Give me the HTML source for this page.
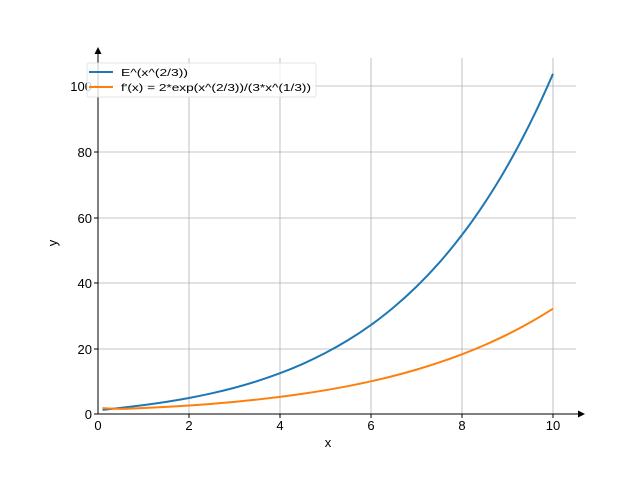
<!DOCTYPE html>
<html><head><style>body{margin:0;background:#fff}svg{display:block}text{font-family:"Liberation Sans","DejaVu Sans",sans-serif}</style></head>
<body>
<svg width="640" height="480" viewBox="0 0 640 480">
<g stroke="#b0b0b0" stroke-width="0.8">
<line x1="189" y1="58" x2="189" y2="414"/><line x1="280" y1="58" x2="280" y2="414"/><line x1="371" y1="58" x2="371" y2="414"/><line x1="462" y1="58" x2="462" y2="414"/><line x1="553" y1="58" x2="553" y2="414"/>
<line x1="98" y1="349" x2="576" y2="349"/><line x1="98" y1="283" x2="576" y2="283"/><line x1="98" y1="218" x2="576" y2="218"/><line x1="98" y1="152" x2="576" y2="152"/><line x1="98" y1="86" x2="576" y2="86"/>
</g>
<g fill="none" stroke-width="2" stroke-linejoin="round" transform="translate(98,414) scale(45.5,-3.28)">
<path vector-effect="non-scaling-stroke" stroke="#1f77b4" d="M0.1,1.24 L0.3,1.55 L0.5,1.878 C0.6667,2.141 0.8333,2.416 1,2.718 S1.3333,3.348 1.5,3.708 S1.8333,4.46 2,4.891 S2.3333,5.792 2.5,6.309 S2.8333,7.389 3,8.006 S3.3333,9.293 3.5,10.027 S3.8333,11.557 4,12.427 S4.3333,14.242 4.5,15.27 S4.8333,17.41 5,18.62 S5.3333,21.131 5.5,22.55 S5.8333,25.499 6,27.16 S6.3333,30.612 6.5,32.55 S6.8333,36.575 7,38.83 S7.3333,43.511 7.5,46.13 S7.8333,51.567 8,54.6 S8.3333,60.893 8.5,64.4 S8.8333,71.657 9,75.7 S9.3333,84.075 9.5,88.73 S9.8333,98.37 10,103.72"/>
<path vector-effect="non-scaling-stroke" stroke="#ff7f0e" d="M0.1,1.781 L0.3,1.62 L0.5,1.577 C0.6667,1.577 0.8333,1.715 1,1.812 S1.3333,2.031 1.5,2.16 S1.8333,2.431 2,2.588 S2.3333,2.913 2.5,3.099 S2.8333,3.484 3,3.701 S3.3333,4.15 3.5,4.403 S3.8333,4.925 4,5.219 S4.3333,5.826 4.5,6.166 S4.8333,6.867 5,7.259 S5.3333,8.065 5.5,8.516 S5.8333,9.446 6,9.965 S6.3333,11.032 6.5,11.627 S6.8333,12.851 7,13.532 S7.3333,14.933 7.5,15.711 S7.8333,17.312 8,18.2 S8.3333,20.03 8.5,21.04 S8.8333,23.112 9,24.26 S9.3333,26.623 9.5,27.93 S9.8333,30.65 10,32.1"/>
</g>
<g stroke="#000" stroke-width="1">
<line x1="98" y1="414" x2="580" y2="414"/><line x1="98" y1="414" x2="98" y2="52"/>
</g>
<polygon points="585,414 578,410.5 578,417.5" fill="#000"/>
<polygon points="98,47 94.5,54 101.5,54" fill="#000"/>
<g stroke="#000"><line x1="189" y1="414" x2="189" y2="418"/><line x1="280" y1="414" x2="280" y2="418"/><line x1="371" y1="414" x2="371" y2="418"/><line x1="462" y1="414" x2="462" y2="418"/><line x1="553" y1="414" x2="553" y2="418"/>
<line x1="94" y1="349" x2="98" y2="349"/><line x1="94" y1="283" x2="98" y2="283"/><line x1="94" y1="218" x2="98" y2="218"/><line x1="94" y1="152" x2="98" y2="152"/><line x1="94" y1="86" x2="98" y2="86"/><line x1="94" y1="414" x2="98" y2="414"/></g>
<g font-size="13" text-anchor="middle">
<text x="98" y="430">0</text><text x="189" y="430">2</text><text x="280" y="430">4</text><text x="371" y="430">6</text><text x="462" y="430">8</text><text x="553" y="430">10</text>
<text x="328" y="447">x</text>
</g>
<g font-size="13" text-anchor="end">
<text x="92" y="419">0</text><text x="92" y="354">20</text><text x="92" y="288">40</text><text x="92" y="223">60</text><text x="92" y="157">80</text><text x="92" y="91">100</text>
</g>
<text x="57" y="243" font-size="13" transform="rotate(-90 57 243)" text-anchor="middle">y</text>
<rect x="87" y="63" width="229" height="34" rx="2" fill="#fff" fill-opacity="0.8" stroke="#ddd" stroke-width="0.8"/>
<line x1="89" y1="72" x2="113" y2="72" stroke="#1f77b4" stroke-width="2"/>
<line x1="89" y1="87" x2="113" y2="87" stroke="#ff7f0e" stroke-width="2"/>
<text x="121" y="76" font-size="10.5" textLength="67" lengthAdjust="spacingAndGlyphs">E^(x^(2/3))</text>
<text x="121" y="91" font-size="10.5" textLength="190" lengthAdjust="spacingAndGlyphs">f'(x) = 2*exp(x^(2/3))/(3*x^(1/3))</text>
</svg>
</body></html>
